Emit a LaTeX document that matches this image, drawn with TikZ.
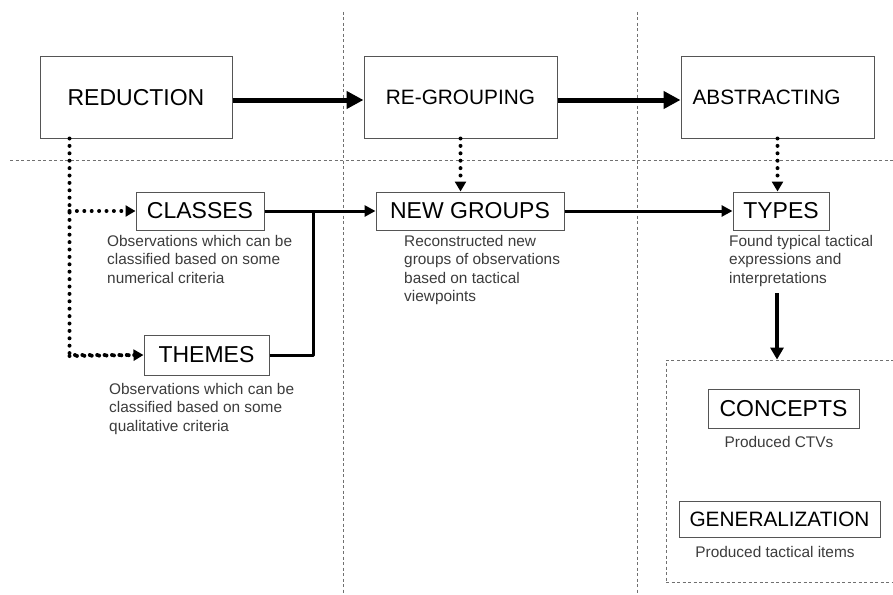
\documentclass[tikz,border=0pt]{standalone}
\usepackage{fontspec}
\setmainfont{Liberation Sans}
\usetikzlibrary{arrows.meta,calc}
\definecolor{boxline}{HTML}{555555}
\definecolor{desctext}{HTML}{3C3C3C}
\definecolor{sepline}{HTML}{707070}
\begin{document}
\begin{tikzpicture}[x=1pt,y=-1pt,
  bigbox/.style={draw=boxline,line width=1pt,inner sep=0pt,font=\fontsize{23}{27}\selectfont},
  smallbox/.style={draw=boxline,line width=1pt,inner sep=0pt,font=\fontsize{23}{27}\selectfont},
  smallfont/.style={font=\fontsize{20.8}{25}\selectfont},
  desc/.style={inner sep=0pt,anchor=north west,align=left,text=desctext,font=\fontsize{15.4}{18.5}\selectfont},
  cdesc/.style={inner sep=0pt,align=center,text=desctext,font=\fontsize{15.4}{18.5}\selectfont},
  sep/.style={draw=sepline,line width=0.8pt,dash pattern=on 3pt off 2.5pt},
  container/.style={draw=sepline,line width=0.9pt,dash pattern=on 3pt off 2.5pt,inner sep=0pt},
  bigarrow/.style={line width=5pt,-{Triangle[length=17pt,width=17pt]}},
  midarrow/.style={line width=3pt,-{Triangle[length=11pt,width=11pt]}},
  midline/.style={line width=3pt},
  dotline/.style={line width=4pt,line cap=round,dash pattern=on 0pt off 7.4pt},
  dotarrow/.style={dotline,-{Triangle[length=10pt,width=11pt]}}
]
\useasboundingbox[fill=white] (0,0) rectangle (893,594);

% separators
\draw[sep] (10,160) -- (893,160);
\draw[sep] (343,12) -- (343,594);
\draw[sep] (637,12) -- (637,594);

% main boxes
\node[bigbox,minimum width=192pt,minimum height=81pt] (red) at (136,97.5) {REDUCTION};
\node[bigbox,smallfont,minimum width=193pt,minimum height=81pt] (regroup) at (460.5,97.5) {RE-GROUPING};
\node[bigbox,smallfont,minimum width=193pt,minimum height=81pt] (abstract) at (777.5,97.5) {ABSTRACTING\hspace*{22pt}};

% small boxes
\node[smallbox,minimum width=128pt,minimum height=38pt] (classes) at (200,211) {CLASSES};
\node[smallbox,minimum width=188pt,minimum height=38pt] (newgroups) at (470,211) {NEW GROUPS};
\node[smallbox,minimum width=96pt,minimum height=38pt] (types) at (781,211) {TYPES};
\node[smallbox,minimum width=125pt,minimum height=40pt] (themes) at (206.5,355) {THEMES};

\node[container,minimum width=234pt,minimum height=222pt] (cont) at (783,471) {};
\node[smallbox,minimum width=151pt,minimum height=39pt] (concepts) at (783.5,408.5) {CONCEPTS};
\node[smallbox,smallfont,minimum width=201pt,minimum height=36pt] (general) at (779.5,519) {GENERALIZATION};

% descriptions
\node[desc] (dclasses) at (107,235) {Observations which can be\\classified based on some\\numerical criteria};
\node[desc] (dthemes) at (109,383) {Observations which can be\\classified based on some\\qualitative criteria};
\node[desc] (dnew) at (404,235) {Reconstructed new\\groups of observations\\based on tactical\\viewpoints};
\node[desc] (dtypes) at (729,235) {Found typical tactical\\expressions and\\interpretations};
\node[cdesc] (dconcepts) at (779,442) {Produced CTVs};
\node[cdesc] (dgeneral) at (775,552) {Produced tactical items};

% thick arrows between phases
\draw[bigarrow] ([yshift=-2.5pt]red.east) -- ([yshift=-2.5pt]regroup.west);
\draw[bigarrow] ([yshift=-2.5pt]regroup.east) -- ([yshift=-2.5pt]abstract.west);

% dotted connectors
\coordinate (tap) at ($(red.south west)+(30,0)$);
\draw[dotline] (tap) |- ([xshift=-3pt]themes.west);
\draw[dotarrow] ([yshift=-1pt]tap |- themes.west) -- (themes.west);
\draw[dotarrow] (tap |- classes.west) -- (classes.west);
\draw[dotarrow] (regroup.south) -- (regroup.south |- newgroups.north);
\draw[dotarrow] (abstract.south) -- (abstract.south |- types.north);

% solid connectors
\coordinate (junc) at (313,211);
\draw[midarrow] (classes.east) -- (newgroups.west);
\draw[midline,line join=round] (themes.east) -| (junc);
\draw[midarrow] (newgroups.east) -- (types.west);
\coordinate (tstart) at (777,293);
\draw[line width=4.5pt,-{Triangle[length=12pt,width=13pt]}] (tstart) -- (tstart |- cont.north);
\end{tikzpicture}
\end{document}
